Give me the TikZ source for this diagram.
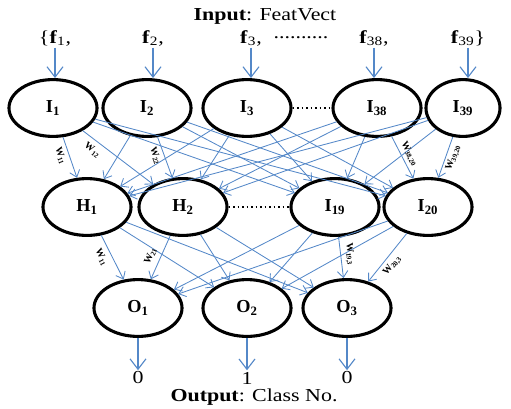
\documentclass[tikz,border=0pt]{standalone}
\usepackage{fontspec}
\setmainfont{Liberation Serif}
\usepackage{graphicx}
\usepackage{xcolor}
\usepackage{tikz}
\usetikzlibrary{shapes.geometric}
\usetikzlibrary{arrows.meta}

\definecolor{linkblue}{RGB}{84,136,200}
\newcommand{\widetext}[1]{\scalebox{1.2}[1]{#1}}

\begin{document}
\begin{tikzpicture}[
    x=0.025cm, y=-0.025cm,
    neuron/.style={ellipse, draw, line width=2.2pt, inner sep=+0pt, minimum width=2.2cm, minimum height=1.42cm, font=\fontsize{13}{15}\selectfont\bfseries},
    link/.style={draw=linkblue, line width=0.6pt, -{Straight Barb[length=0.16cm,width=0.26cm]}},
    feed/.style={draw=linkblue, line width=0.8pt, -{Straight Barb[length=0.26cm,width=0.4cm]}},
    wlab/.style={font=\fontsize{7}{8}\selectfont\bfseries, inner sep=1pt, sloped},
    gap/.style={dotted, line width=1.2pt},
    lbl/.style={font=\fontsize{13}{15}\selectfont, inner sep=1pt}
    ]
\useasboundingbox (0,0) rectangle (511,408);

% input vector
\node[lbl] (intitle) at (265,16) {\widetext{\textbf{Input}: FeatVect}};
\node[lbl] (f1)  at (55,38)  {\widetext{\{\textbf{f}\textsubscript{1},}};
\node[lbl] (f2)  at (153,38) {\widetext{\textbf{f}\textsubscript{2},}};
\node[lbl] (f3)  at (251,38) {\widetext{\textbf{f}\textsubscript{3},}};
\node[lbl] (fdots) at (301,38) {\widetext{..........}};
\node[lbl] (f38) at (374,38) {\widetext{\textbf{f}\textsubscript{38},}};
\node[lbl] (f39) at (468,38) {\widetext{\textbf{f}\textsubscript{39}\}}};

% input layer
\node[neuron] (in1)  at (53,108)  {I\textsubscript{1}};
\node[neuron] (in2)  at (147,108) {I\textsubscript{2}};
\node[neuron] (in3)  at (247,108) {I\textsubscript{3}};
\node[neuron] (in38) at (377,108) {I\textsubscript{38}};
\node[neuron, minimum width=1.85cm] (in39) at (463,108) {I\textsubscript{39}};

% hidden layer
\node[neuron] (hid1)  at (87,207)  {H\textsubscript{1}};
\node[neuron] (hid2)  at (183,207) {H\textsubscript{2}};
\node[neuron] (hid19) at (335,207) {I\textsubscript{19}};
\node[neuron] (hid20) at (428,207) {I\textsubscript{20}};

% output layer
\node[neuron] (out1) at (138,308) {O\textsubscript{1}};
\node[neuron] (out2) at (247,308) {O\textsubscript{2}};
\node[neuron] (out3) at (347,308) {O\textsubscript{3}};

\node[lbl] (cls1) at (138,378) {\widetext{0}};
\node[lbl] (cls2) at (247,378) {\widetext{1}};
\node[lbl] (cls3) at (347,378) {\widetext{0}};
\node[lbl] (outtitle) at (254,397) {\widetext{\textbf{Output}: Class No.}};

% feature arrows
\foreach \i in {1,2,3,38,39}
    \draw[feed] (f\i.south) -- (f\i.south |- in\i.north);
\foreach \i in {1,2,3}
    \draw[feed] (out\i) -- (cls\i);

% weights
\foreach \a in {1,2,3,38,39}
    \foreach \b in {1,2,19,20}
        \draw[link] (in\a) -- (hid\b);
\foreach \a in {1,2,19,20}
    \foreach \b in {1,2,3}
        \draw[link] (hid\a) -- (out\b);

\path (in1) -- node[wlab, pos=0.4, below=2pt] {W\textsubscript{11}} (hid1);
\path (in1) -- node[wlab, pos=0.22, below=3pt] {W\textsubscript{12}} (hid2);
\path (in2) -- node[wlab, pos=0.4, below=2pt] {W\textsubscript{22}} (hid2);
\path (in38) -- node[wlab, pos=0.5, above=1pt] {W\textsubscript{38,20}} (hid20);
\path (in39) -- node[wlab, pos=0.45, below=1pt] {W\textsubscript{39,20}} (hid20);
\path (hid1) -- node[wlab, pos=0.4, below=3pt] {W\textsubscript{11}} (out1);
\path (hid2) -- node[wlab, pos=0.55, above=3pt] {W\textsubscript{21}} (out1);
\path (hid19) -- node[wlab, pos=0.45, above=2pt] {W\textsubscript{19,3}} (out3);
\path (hid20) -- node[wlab, pos=0.55, below=2pt] {W\textsubscript{20,3}} (out3);

% gaps
\draw[gap] (in3) -- (in38);
\draw[gap] (hid2) -- (hid19);

\end{tikzpicture}
\end{document}
